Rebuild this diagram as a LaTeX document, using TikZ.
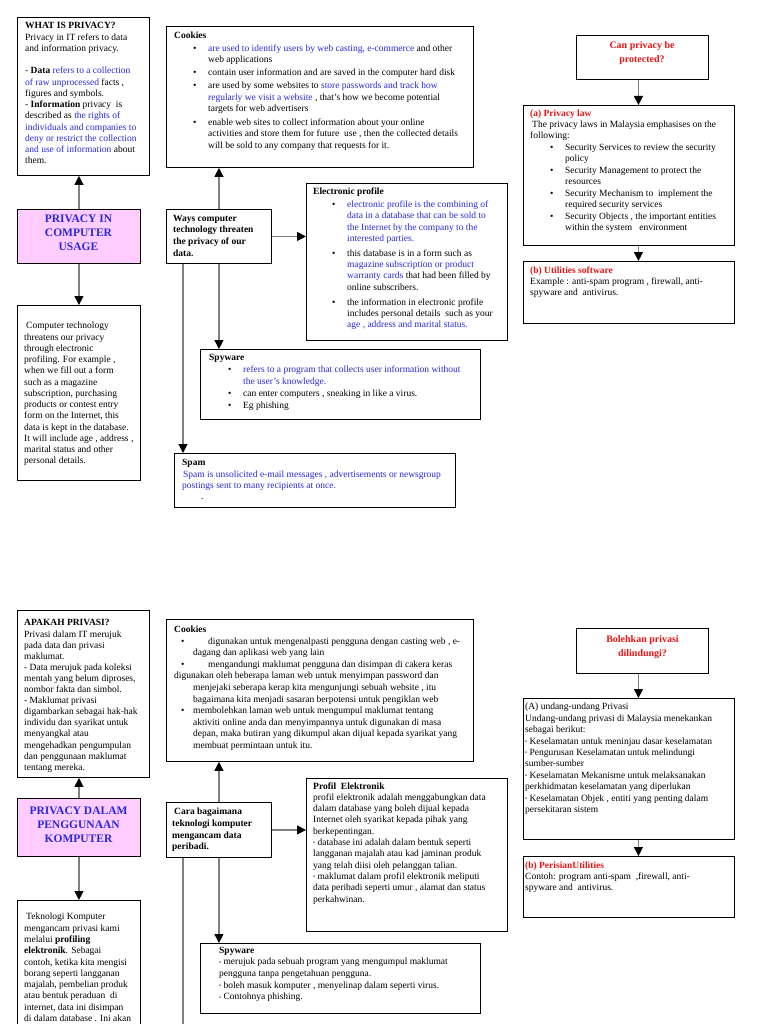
\documentclass[tikz,border=0pt]{standalone}
\usepackage{fontspec}
\usepackage{graphicx}
\setmainfont{Liberation Serif}
\usetikzlibrary{arrows.meta}

\definecolor{docblue}{RGB}{40,40,225}
\definecolor{docred}{RGB}{235,20,20}
\definecolor{pinkfill}{RGB}{255,204,255}
\definecolor{linegray}{RGB}{128,128,128}

\newcommand{\txtfont}{\fontsize{9.5}{11.3}\selectfont}
\newcommand{\blu}[1]{\textcolor{docblue}{#1}}
\newcommand{\redb}[1]{\textcolor{docred}{\textbf{#1}}}
\newcommand{\bitem}[2]{\hspace*{#1}\makebox[#2][l]{\textbullet}}
\newcommand{\indl}[1]{\hspace*{#1}}
\newcommand{\sdot}{\raisebox{0.6pt}{\scalebox{0.6}{\textbullet}}}

\begin{document}
\begin{tikzpicture}[x=1pt, y=-1pt,
    box/.style={draw=black, line width=0.9pt, anchor=north west, inner sep=0pt},
    pinkbox/.style={box, fill=pinkfill},
    txt/.style={anchor=north west, inner sep=0pt, align=left, font=\txtfont},
    headtxt/.style={inner sep=0pt, align=center, text=docblue, font=\bfseries\fontsize{11.5}{14.2}\selectfont},
    asktxt/.style={anchor=north, inner sep=0pt, align=center, text=docred, font=\bfseries\fontsize{10}{13.4}\selectfont},
    conn/.style={draw=linegray, line width=1.1pt, -{Triangle[width=9pt,length=9pt,color=black]}},
    link/.style={draw=linegray, line width=1.1pt}]
    \useasboundingbox[fill=white] (0,0) rectangle (768,1024);

    % English half
    \node[box, minimum width=132, minimum height=158] (what) at (17,17) {};
    \node[txt, font=\fontsize{9.5}{11.25}\selectfont] (whattxt) at (25,22.5) {\textbf{WHAT IS PRIVACY?}\\
        Privacy in IT refers to data\\
        and information privacy.\\[11.25pt]
        - \textbf{Data} \blu{refers to a collection}\\
        \blu{of raw unprocessed} facts ,\\
        figures and symbols.\\
        - \textbf{Information} privacy\ \ is\\
        described as \blu{the rights of}\\
        \blu{individuals and companies to}\\
        \blu{deny or restrict the collection}\\
        \blu{and use of information} about\\
        them.};

    \node[pinkbox, minimum width=123, minimum height=54] (usage) at (17,209) {};
    \node[headtxt] (usagetxt) at (78.5,233) {PRIVACY IN\\COMPUTER\\USAGE};

    \node[box, minimum width=123, minimum height=175] (tech) at (17,305) {};
    \node[txt, font=\fontsize{9.5}{11.25}\selectfont] (techtxt) at (24,322) {\indl{2pt}Computer technology\\
        threatens our privacy\\
        through electronic\\
        profiling. For example ,\\
        when we fill out a form\\
        such as a magazine\\
        subscription, purchasing\\
        products or contest entry\\
        form on the Internet, this\\
        data is kept in the database.\\
        It will include age , address ,\\
        marital status and other\\
        personal details.};

    \node[box, minimum width=105, minimum height=54] (ways) at (166,209) {};
    \node[txt, font=\bfseries\fontsize{9.5}{11.6}\selectfont] (waystxt) at (173,214.8) {Ways computer\\technology threaten\\the privacy of our\\data.};

    \node[box, minimum width=307, minimum height=141] (cookies) at (166,26) {};
    \node[txt, font=\fontsize{9.5}{11.5}\selectfont] (cookiestxt) at (174,31.5) {\textbf{Cookies}\\[1.5pt]
        \bitem{19pt}{15pt}\blu{are used to identify users by web casting, e-commerce} and other\\
        \indl{34pt}web applications\\[1pt]
        \bitem{19pt}{15pt}contain user information and are saved in the computer hard disk\\[2pt]
        \bitem{19pt}{15pt}are used by some websites to \blu{store passwords and track how}\\
        \indl{34pt}\blu{regularly we visit a website} , that's how we become potential\\
        \indl{34pt}targets for web advertisers\\[2pt]
        \bitem{19pt}{15pt}enable web sites to collect information about your online\\
        \indl{34pt}activities and store them for future\ \ use , then the collected details\\
        \indl{34pt}will be sold to any company that requests for it.};

    \node[box, minimum width=201, minimum height=157] (eprofile) at (306,183) {};
    \node[txt] (eprofiletxt) at (313,187.5) {\textbf{Electronic profile}\\[2pt]
        \bitem{19pt}{15pt}\blu{electronic profile is the combining of}\\
        \indl{34pt}\blu{data in a database that can be sold to}\\
        \indl{34pt}\blu{the Internet by the company to the}\\
        \indl{34pt}\blu{interested parties.}\\[3.5pt]
        \bitem{19pt}{15pt}this database is in a form such as\\
        \indl{34pt}\blu{magazine subscription or product}\\
        \indl{34pt}\blu{warranty cards} that had been filled by\\
        \indl{34pt}online subscribers.\\[3.5pt]
        \bitem{19pt}{15pt}the information in electronic profile\\
        \indl{34pt}includes personal details\ \ such as your\\
        \indl{34pt}\blu{age , address and marital status.}};

    \node[box, minimum width=280, minimum height=70] (spyware) at (200,349) {};
    \node[txt, font=\fontsize{9.5}{11.8}\selectfont] (spywaretxt) at (209,354.5) {\textbf{Spyware}\\
        \bitem{19pt}{15pt}\blu{refers to a program that collects user information without}\\
        \indl{34pt}\blu{the user's knowledge.}\\
        \bitem{19pt}{15pt}can enter computers , sneaking in like a virus.\\
        \bitem{19pt}{15pt}Eg phishing};

    \node[box, minimum width=281, minimum height=54] (spam) at (174,453) {};
    \node[txt, font=\fontsize{9.5}{11.2}\selectfont] (spamtxt) at (182,459.5) {\textbf{Spam}\\
        \blu{\indl{1pt}Spam is unsolicited e-mail messages , advertisements or newsgroup}\\
        \blu{postings sent to many recipients at once.}\\
        \indl{19pt}.};

    \node[box, minimum width=132, minimum height=44] (canprot) at (576,35) {};
    \node[asktxt] (canprottxt) at (642,41.5) {Can privacy be\\protected?};

    \node[box, minimum width=211, minimum height=140] (law) at (523,105) {};
    \node[txt, font=\fontsize{9.5}{11.2}\selectfont] (lawtxt) at (530,109.8) {\redb{(a) Privacy law}\\
        \indl{2pt}The privacy laws in Malaysia emphasises on the\\
        following:\\
        \bitem{20pt}{15pt}Security Services to review the security\\
        \indl{35pt}policy\\[0.8pt]
        \bitem{20pt}{15pt}Security Management to protect the\\
        \indl{35pt}resources\\[0.8pt]
        \bitem{20pt}{15pt}Security Mechanism to\ \ implement the\\
        \indl{35pt}required security services\\[0.8pt]
        \bitem{20pt}{15pt}Security Objects , the important entities\\
        \indl{35pt}within the system\ \ \ environment};

    \node[box, minimum width=211, minimum height=62] (util) at (523,261) {};
    \node[txt] (utiltxt) at (530,266.5) {\redb{(b) Utilities software}\\
        Example : anti-spam program , firewall, anti-\\
        spyware and\ \ antivirus.};

    \draw[conn] (usage.north) -- (usage.north |- what.south);
    \draw[conn] (usage.south) -- (usage.south |- tech.north);
    \draw[conn] (ways.north) -- (ways.north |- cookies.south);
    \draw[conn] (ways.east) -- (ways.east -| eprofile.west);
    \draw[conn] (ways.south) -- (ways.south |- spyware.north);
    \coordinate (waysleg) at ([xshift=17pt]ways.south west);
    \draw[conn] (waysleg) -- (waysleg |- spam.north);
    \coordinate (canleg) at ([xshift=-4pt]canprot.south);
    \draw[conn] (canleg) -- (canleg |- law.north);
    \draw[conn] (canleg |- law.south) -- (canleg |- util.north);

    % Malay half
    \node[box, minimum width=132, minimum height=167] (apakah) at (17,610) {};
    \node[txt, font=\fontsize{9.5}{11.1}\selectfont] (apakahtxt) at (24,619.5) {\textbf{APAKAH PRIVASI?}\\
        Privasi dalam IT merujuk\\
        pada data dan privasi\\
        maklumat.\\
        - Data merujuk pada koleksi\\
        mentah yang belum diproses,\\
        nombor fakta dan simbol.\\
        - Maklumat privasi\\
        digambarkan sebagai hak-hak\\
        individu dan syarikat untuk\\
        menyangkal atau\\
        mengehadkan pengumpulan\\
        dan penggunaan maklumat\\
        tentang mereka.};

    \node[pinkbox, minimum width=123, minimum height=58] (usagems) at (17,798) {};
    \node[headtxt] (usagemstxt) at (78.5,825) {PRIVACY DALAM\\PENGGUNAAN\\KOMPUTER};

    \node[box, minimum width=123, minimum height=140] (techms) at (17,900) {};
    \node[txt] (techmstxt) at (24,913) {\indl{2pt}Teknologi Komputer\\
        mengancam privasi kami\\
        melalui \textbf{profiling}\\
        \textbf{elektronik}. Sebagai\\
        contoh, ketika kita mengisi\\
        borang seperti langganan\\
        majalah, pembelian produk\\
        atau bentuk peraduan\ \ di\\
        internet, data ini disimpan\\
        di dalam database . Ini akan};

    \node[box, minimum width=105, minimum height=55] (cara) at (166,802) {};
    \node[txt, font=\bfseries\fontsize{9.5}{11.6}\selectfont] (caratxt) at (172,808) {\indl{2pt}Cara bagaimana\\teknologi komputer\\mengancam data\\peribadi.};

    \node[box, minimum width=307, minimum height=142] (cookiesms) at (166,619) {};
    \node[txt, font=\fontsize{9.5}{11.6}\selectfont] (cookiesmstxt) at (174,625.8) {\textbf{Cookies}\\
        \bitem{7pt}{27pt}digunakan untuk mengenalpasti pengguna dengan casting web , e-\\
        \indl{19pt}dagang dan aplikasi web yang lain\\
        \bitem{7pt}{27pt}mengandungi maklumat pengguna dan disimpan di cakera keras\\
        digunakan oleh beberapa laman web untuk menyimpan password dan\\
        \indl{19pt}menjejaki seberapa kerap kita mengunjungi sebuah website , itu\\
        \indl{19pt}bagaimana kita menjadi sasaran berpotensi untuk pengiklan web\\
        \bitem{7pt}{12pt}membolehkan laman web untuk mengumpul maklumat tentang\\
        \indl{19pt}aktiviti online anda dan menyimpannya untuk digunakan di masa\\
        \indl{19pt}depan, maka butiran yang dikumpul akan dijual kepada syarikat yang\\
        \indl{19pt}membuat permintaan untuk itu.};

    \node[box, minimum width=201, minimum height=153] (profil) at (306,778) {};
    \node[txt] (profiltxt) at (313,782.2) {\textbf{Profil\ \ Elektronik}\\
        profil elektronik adalah menggabungkan data\\
        dalam database yang boleh dijual kepada\\
        Internet oleh syarikat kepada pihak yang\\
        berkepentingan.\\
        \sdot\ database ini adalah dalam bentuk seperti\\
        langganan majalah atau kad jaminan produk\\
        yang telah diisi oleh pelanggan talian.\\
        \sdot\ maklumat dalam profil elektronik meliputi\\
        data peribadi seperti umur , alamat dan status\\
        perkahwinan.};

    \node[box, minimum width=280, minimum height=70] (spywarems) at (200,943) {};
    \node[txt, font=\fontsize{9.5}{11.7}\selectfont] (spywaremstxt) at (219,946.5) {\textbf{Spyware}\\
        \sdot\ merujuk pada sebuah program yang mengumpul maklumat\\
        pengguna tanpa pengetahuan pengguna.\\
        \sdot\ boleh masuk komputer , menyelinap dalam seperti virus.\\
        \sdot\ Contohnya phishing.};

    \node[box, minimum width=132, minimum height=45] (boleh) at (576,628) {};
    \node[asktxt] (bolehtxt) at (642.5,635.5) {Bolehkan privasi\\dilindungi?};

    \node[box, minimum width=211, minimum height=141] (undang) at (523,698) {};
    \node[txt, font=\fontsize{9.5}{11.4}\selectfont] (undangtxt) at (525,703) {(A) undang-undang Privasi\\
        Undang-undang privasi di Malaysia menekankan\\
        sebagai berikut:\\
        \sdot\ Keselamatan untuk meninjau dasar keselamatan\\
        \sdot\ Pengurusan Keselamatan untuk melindungi\\
        sumber-sumber\\
        \sdot\ Keselamatan Mekanisme untuk melaksanakan\\
        perkhidmatan keselamatan yang diperlukan\\
        \sdot\ Keselamatan Objek , entiti yang penting dalam\\
        persekitaran sistem};

    \node[box, minimum width=211, minimum height=61] (perisian) at (523,856) {};
    \node[txt, font=\fontsize{9.5}{11}\selectfont] (perisiantxt) at (525,861.5) {\redb{(b) PerisianUtilities}\\
        Contoh: program anti-spam\ \ ,firewall, anti-\\
        spyware and\ \ antivirus.};

    \draw[conn] (usagems.north) -- (usagems.north |- apakah.south);
    \draw[conn] (usagems.south) -- (usagems.south |- techms.north);
    \draw[conn] (cara.north) -- (cara.north |- cookiesms.south);
    \draw[conn] (cara.east) -- (cara.east -| profil.west);
    \draw[conn] (cara.south) -- (cara.south |- spywarems.north);
    \coordinate (caraleg) at ([xshift=17pt]cara.south west);
    \coordinate (caraend) at (183,1030);
    \draw[link] (caraleg) -- (caraend);
    \coordinate (bolehleg) at ([xshift=-4pt]boleh.south);
    \draw[conn] (bolehleg) -- (bolehleg |- undang.north);
    \draw[conn] (bolehleg |- undang.south) -- (bolehleg |- perisian.north);
\end{tikzpicture}
\end{document}
